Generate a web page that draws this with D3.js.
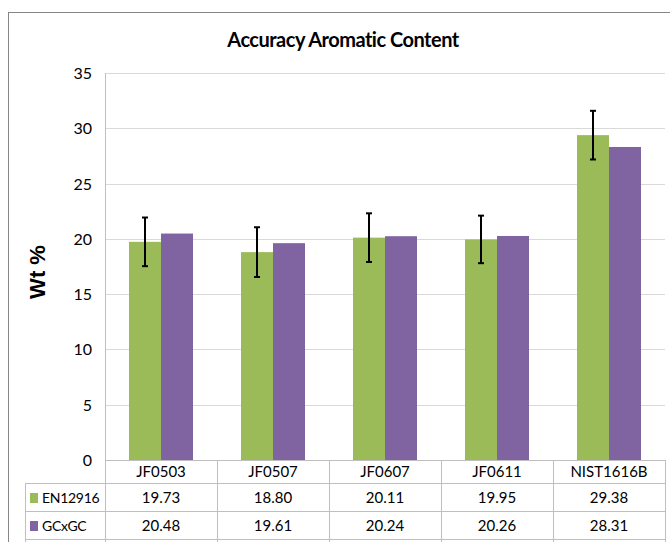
<!DOCTYPE html>
<html lang="en">
<head>
<meta charset="UTF-8">
<script src="https://d3js.org/d3.v7.min.js"></script>
<style>
body { margin: 0; background: #fff; }
text { font-family: Lato, "Open Sans", sans-serif; fill: #000; }
</style>
</head>
<body>
<svg id="chart" width="670" height="542"></svg>
<script>
// data
var categories = ["JF0503", "JF0507", "JF0607", "JF0611", "NIST1616B"];
var seriesNames = ["EN12916", "GCxGC"];
var en12916 = [19.73, 18.80, 20.11, 19.95, 29.38];
var gcxgc = [20.48, 19.61, 20.24, 20.26, 28.31];
var enError = [2.2, 2.25, 2.2, 2.15, 2.2];
var yTicks = [0, 5, 10, 15, 20, 25, 30, 35];
var colors = ["#9BBB59", "#8064A2"];

var svg = d3.select("#chart");
// plot area edges (note: "top" is reserved on window, so use pTop etc.)
var pLeft = 105, pRight = 665, pTop = 73, pBottom = 460;
var rowH = 28;

// outer frame
svg.append("rect").attr("x", 8.5).attr("y", 12.5).attr("width", 700).attr("height", 600)
  .attr("fill", "none").attr("stroke", "#868686").attr("stroke-width", 1);

svg.append("text").attr("x", 343).attr("y", 47).attr("text-anchor", "middle")
  .style("font-size", "20px").style("font-weight", "bold").style("letter-spacing", "-0.5px")
  .text("Accuracy Aromatic Content");

var x = d3.scaleBand().domain(categories).range([pLeft, pRight]);
var xs = d3.scaleBand().domain(seriesNames).range([0, x.bandwidth()]).paddingOuter(0.75).paddingInner(0);
var y = d3.scaleLinear().domain([0, 35]).range([pBottom, pTop]);

// gridlines
svg.append("g").selectAll("line").data(yTicks.slice(1)).join("line")
  .attr("x1", pLeft).attr("x2", pRight)
  .attr("y1", function(d){ return Math.round(y(d)) + 0.5; })
  .attr("y2", function(d){ return Math.round(y(d)) + 0.5; })
  .attr("stroke", "#d9d9d9").attr("stroke-width", 1.2);

// y tick labels
svg.append("g").selectAll("text").data(yTicks).join("text")
  .attr("x", 92).attr("y", function(d){ return y(d) + 6; })
  .attr("text-anchor", "end").style("font-size", "16px")
  .text(function(d){ return d; });

svg.append("text").attr("transform", "translate(45,272) rotate(-90)")
  .attr("text-anchor", "middle")
  .style("font-family", "'Liberation Sans', Arial, sans-serif")
  .style("font-size", "22px").style("font-weight", "bold")
  .text("Wt %");

// bars
var series = [en12916, gcxgc];
seriesNames.forEach(function(name, s) {
  svg.append("g").selectAll("rect").data(series[s]).join("rect")
    .attr("x", function(d, i){ return x(categories[i]) + xs(name); })
    .attr("width", xs.bandwidth())
    .attr("y", function(d){ return y(d); })
    .attr("height", function(d){ return pBottom - y(d); })
    .attr("fill", colors[s]);
});

// error bars on EN12916
var eb = svg.append("g").attr("stroke", "#000").attr("stroke-width", 2);
en12916.forEach(function(d, i) {
  var cx = x(categories[i]) + xs("EN12916") + xs.bandwidth() / 2;
  eb.append("line").attr("x1", cx).attr("x2", cx).attr("y1", y(d + enError[i])).attr("y2", y(d - enError[i]));
  eb.append("line").attr("x1", cx - 3).attr("x2", cx + 3).attr("y1", y(d + enError[i])).attr("y2", y(d + enError[i]));
  eb.append("line").attr("x1", cx - 3).attr("x2", cx + 3).attr("y1", y(d - enError[i])).attr("y2", y(d - enError[i]));
});

// value axis line
svg.append("line").attr("x1", pLeft + 0.5).attr("x2", pLeft + 0.5).attr("y1", pTop).attr("y2", pBottom + rowH * 3)
  .attr("stroke", "#bfbfbf");

// data table
var tableGrid = svg.append("g").attr("stroke", "#bfbfbf").attr("stroke-width", 1);
tableGrid.append("line").attr("x1", pLeft).attr("x2", pRight).attr("y1", pBottom + 0.5).attr("y2", pBottom + 0.5);
[1, 2, 3].forEach(function(r) {
  tableGrid.append("line").attr("x1", 25).attr("x2", pRight)
    .attr("y1", pBottom + r * rowH - 4.5).attr("y2", pBottom + r * rowH - 4.5);
});
categories.forEach(function(c) {
  tableGrid.append("line").attr("x1", x(c) + x.bandwidth() + 0.5).attr("x2", x(c) + x.bandwidth() + 0.5)
    .attr("y1", pBottom).attr("y2", pBottom + rowH * 3);
});
tableGrid.append("line").attr("x1", 25.5).attr("x2", 25.5).attr("y1", pBottom + rowH - 4).attr("y2", pBottom + rowH * 3);

svg.append("g").selectAll("text").data(categories).join("text")
  .attr("x", function(d){ return x(d) + x.bandwidth() / 2; })
  .attr("y", pBottom + 17).attr("text-anchor", "middle").style("font-size", "15px")
  .text(function(d){ return d; });

seriesNames.forEach(function(name, s) {
  var ry = pBottom + rowH * (s + 1) - 4;
  svg.append("rect").attr("x", 30).attr("y", ry + 9).attr("width", 8).attr("height", 10).attr("fill", colors[s]);
  svg.append("text").attr("x", 42).attr("y", ry + 19).style("font-size", "14px").style("letter-spacing", "-0.3px").text(name);
  svg.append("g").selectAll("text").data(series[s]).join("text")
    .attr("x", function(d, i){ return x(categories[i]) + x.bandwidth() / 2; })
    .attr("y", ry + 19).attr("text-anchor", "middle").style("font-size", "15px")
    .text(function(d){ return d.toFixed(2); });
});
</script>
</body>
</html>
